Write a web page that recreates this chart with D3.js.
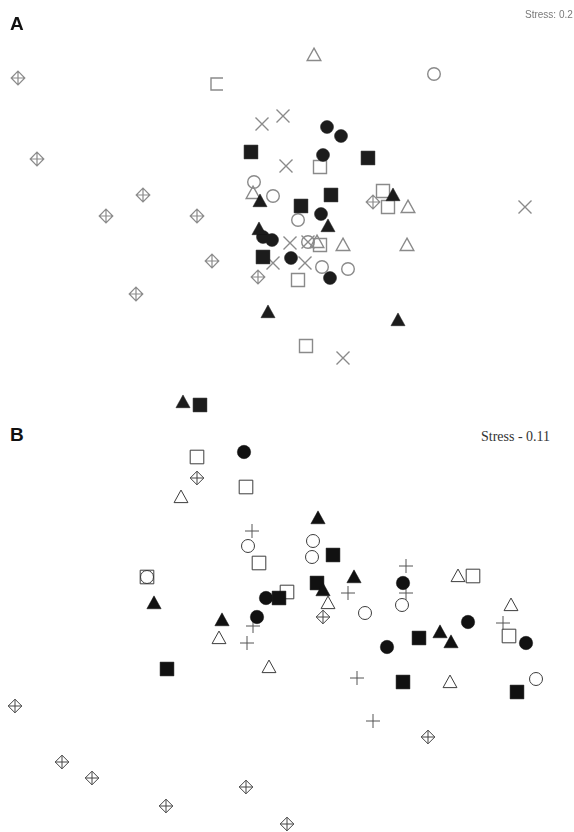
<!DOCTYPE html>
<html>
<head>
<meta charset="utf-8">
<script src="https://cdn.jsdelivr.net/npm/d3@7"></script>
<style>
  body { margin: 0; background: #fff; }
  svg { display: block; }
</style>
</head>
<body>
<script>
// ---- Panel A: NMDS scores [axis 1, axis 2] per sample group ----
const aCrossDiamond = [[-2.69,1.37],[-2.50,0.56],[-1.44,0.20],[-1.81,-0.01],[-0.90,-0.01],[-0.75,-0.46],[-1.51,-0.79],[-0.29,-0.62],[0.86,0.13]];
const aOpenBracket  = [[-0.70,1.31]];
const aOpenSquare   = [[0.33,0.48],[0.96,0.24],[1.01,0.08],[0.33,-0.30],[0.11,-0.65],[0.19,-1.31]];
const aOpenTriangle = [[0.27,1.60],[1.21,0.08],[0.56,-0.30],[1.20,-0.30],[-0.34,0.22],[0.30,-0.27]];
const aOpenCircle   = [[1.47,1.41],[-0.33,0.33],[-0.14,0.19],[0.11,-0.05],[0.21,-0.27],[0.35,-0.52],[0.61,-0.54]];
const aCross        = [[-0.25,0.91],[-0.04,0.99],[-0.01,0.49],[2.38,0.08],[0.03,-0.28],[-0.14,-0.48],[0.18,-0.48],[0.56,-1.43],[0.21,-0.27]];
const aFilledCircle = [[0.40,0.88],[0.54,0.79],[0.36,0.60],[0.34,0.01],[-0.24,-0.22],[-0.15,-0.25],[0.04,-0.43],[0.43,-0.63]];
const aFilledSquare = [[-0.36,0.63],[0.81,0.57],[0.14,0.09],[0.44,0.20],[-0.24,-0.42],[-0.87,-1.90]];
const aFilledTriangle = [[-0.27,0.14],[1.06,0.20],[0.41,-0.11],[-0.28,-0.14],[-0.19,-0.97],[1.11,-1.05],[-1.04,-1.87]];
const aStress = "Stress: 0.2";

// ---- Panel B: NMDS scores [axis 1, axis 2] per sample group ----
const bCrossDiamond = [[-0.90,1.52],[0.36,0.13],[-2.72,-0.76],[-2.25,-1.32],[-1.95,-1.48],[-1.21,-1.76],[-0.41,-1.57],[0.00,-1.94],[1.41,-1.07]];
const bOpenSquare   = [[-0.90,1.73],[-0.41,1.43],[-0.28,0.67],[-1.40,0.53],[0.00,0.38],[1.86,0.54],[2.22,-0.06]];
const bOpenTriangle = [[-1.06,1.33],[-0.68,-0.08],[-0.18,-0.37],[0.41,0.27],[1.71,0.54],[2.24,0.25],[1.63,-0.52]];
const bOpenCircle   = [[-0.39,0.84],[0.26,0.89],[0.25,0.73],[-1.40,0.53],[0.78,0.17],[1.15,0.25],[2.49,-0.49]];
const bPlus         = [[-0.35,0.99],[1.19,0.64],[0.61,0.37],[1.19,0.37],[-0.34,0.04],[-0.40,-0.13],[2.16,0.07],[0.70,-0.48],[0.86,-0.91]];
const bFilledCircle = [[-0.43,1.78],[-0.21,0.32],[-0.30,0.13],[1.16,0.47],[1.81,0.08],[1.00,-0.17],[2.39,-0.13]];
const bFilledSquare = [[-0.08,0.32],[0.46,0.75],[0.30,0.47],[1.32,-0.08],[-1.20,-0.39],[1.16,-0.52],[2.30,-0.62]];
const bFilledTriangle = [[0.31,1.12],[-1.33,0.27],[-0.65,0.10],[0.67,0.53],[0.36,0.40],[1.53,-0.02],[1.64,-0.12]];
const bStress = "Stress - 0.11";

const W = 574, H = 832;

const svg = d3.select("body").append("svg")
  .attr("width", W).attr("height", H)
  .attr("viewBox", `0 0 ${W} ${H}`);

const defs = svg.append("defs");
defs.append("filter").attr("id", "soft")
  .attr("x", "-5%").attr("y", "-5%").attr("width", "110%").attr("height", "110%")
  .append("feGaussianBlur").attr("stdDeviation", 0.55);

// Shared horizontal scale; each panel has its own vertical scale
const x  = d3.scaleLinear().domain([-2.87, 2.87]).range([0, W]);
const yA = d3.scaleLinear().domain([2.15, -1.95]).range([0, 410]);
const yB = d3.scaleLinear().domain([2.20, -2.02]).range([410, H]);

// Marker outlines, centred at the origin
const shapes = {
  square: s => `M${-s},${-s}H${s}V${s}H${-s}Z`,
  bracket: s => `M${s},${-s}H${-s}V${s}H${s}`,
  circle: r => `M${r},0A${r},${r} 0 1 1 ${-r},0A${r},${r} 0 1 1 ${r},0Z`,
  triangle: s => `M0,${-s * 1.05}L${s * 1.05},${s * 0.85}L${-s * 1.05},${s * 0.85}Z`,
  cross: s => `M${-s},${-s}L${s},${s}M${-s},${s}L${s},${-s}`,
  plus: s => `M${-s},0H${s}M0,${-s}V${s}`,
  crossDiamond: s => `M0,${-s}L${s},0L0,${s}L${-s},0Z M${-s},0H${s}M0,${-s}V${s}`
};

function drawSeries(g, data, yScale, shape, size, style) {
  g.selectAll(null).data(data).enter().append("path")
    .attr("transform", d => `translate(${x(d[0])},${yScale(d[1])})`)
    .attr("d", shapes[shape](size))
    .attr("fill", style.fill || "none")
    .attr("stroke", style.stroke || "none")
    .attr("stroke-width", style.width || 0)
    .attr("stroke-linejoin", "miter");
}

// ---------- Panel A ----------
const gA = svg.append("g").attr("filter", "url(#soft)");
const greyA = { stroke: "#8a8a8a", width: 1.4 };
const blackA = { fill: "#1b1b1b", stroke: "#1b1b1b", width: 0.5 };

drawSeries(gA, aCrossDiamond, yA, "crossDiamond", 6.8, { stroke: "#8a8a8a", width: 1.2 });
drawSeries(gA, aOpenBracket, yA, "bracket", 6, greyA);
drawSeries(gA, aOpenSquare, yA, "square", 6.5, greyA);
drawSeries(gA, aOpenTriangle, yA, "triangle", 6.5, greyA);
drawSeries(gA, aOpenCircle, yA, "circle", 6.3, greyA);
drawSeries(gA, aCross, yA, "cross", 6.5, greyA);
drawSeries(gA, aFilledSquare, yA, "square", 6.9, blackA);
drawSeries(gA, aFilledCircle, yA, "circle", 6.5, blackA);
drawSeries(gA, aFilledTriangle, yA, "triangle", 6.7, blackA);

gA.append("text")
  .attr("x", 525).attr("y", 18)
  .attr("font-family", "Liberation Sans, Arial, sans-serif")
  .attr("font-size", 10)
  .attr("fill", "#7a7a7a")
  .text(aStress);

svg.append("text")
  .attr("x", 10).attr("y", 30)
  .attr("font-family", "Liberation Sans, Arial, sans-serif")
  .attr("font-weight", "bold")
  .attr("font-size", 19)
  .attr("fill", "#111")
  .text("A");

// ---------- Panel B ----------
const gB = svg.append("g");
const greyB = { stroke: "#3c3c3c", width: 1 };
const blackB = { fill: "#111", stroke: "#111", width: 0.5 };

drawSeries(gB, bCrossDiamond, yB, "crossDiamond", 6.8, { stroke: "#444", width: 1 });
drawSeries(gB, bOpenSquare, yB, "square", 6.8, greyB);
drawSeries(gB, bOpenTriangle, yB, "triangle", 6.6, greyB);
drawSeries(gB, bOpenCircle, yB, "circle", 6.5, greyB);
drawSeries(gB, bPlus, yB, "plus", 7, { stroke: "#555", width: 1 });
drawSeries(gB, bFilledSquare, yB, "square", 6.9, blackB);
drawSeries(gB, bFilledCircle, yB, "circle", 6.7, blackB);
drawSeries(gB, bFilledTriangle, yB, "triangle", 6.8, blackB);

gB.append("text")
  .attr("x", 481).attr("y", 441)
  .attr("font-family", "Liberation Serif, Times New Roman, serif")
  .attr("font-size", 14)
  .attr("fill", "#333")
  .text(bStress);

svg.append("text")
  .attr("x", 10).attr("y", 441)
  .attr("font-family", "Liberation Sans, Arial, sans-serif")
  .attr("font-weight", "bold")
  .attr("font-size", 19)
  .attr("fill", "#111")
  .text("B");
</script>
</body>
</html>
